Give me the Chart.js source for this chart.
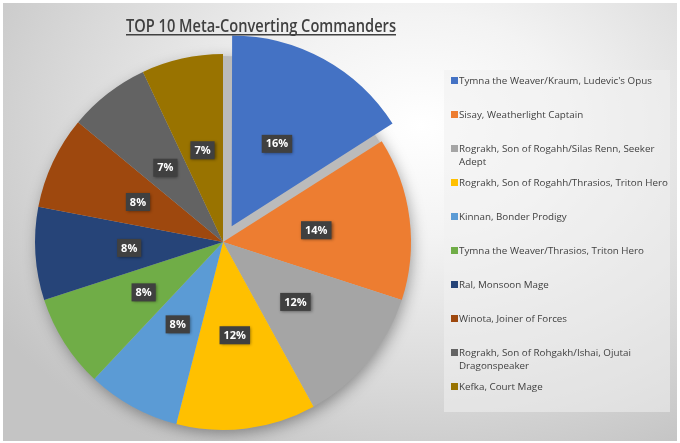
<!DOCTYPE html>
<html>
<head>
<meta charset="utf-8">
<script src="https://cdn.jsdelivr.net/npm/chart.js@4/dist/chart.umd.min.js"></script>
<style>
    html, body { margin: 0; padding: 0; background: #fff; }
    body { width: 680px; height: 443px; position: relative; overflow: hidden; }
    #quadro {
        position: absolute; left: 3px; top: 3px; width: 674px; height: 438px;
        background: radial-gradient(ellipse 75% 85% at 62% 28%, #ffffff 0%, #f3f3f3 30%, #d9d9d9 70%, #c4c4c4 100%);
    }
    #caixaGrafico { position: absolute; left: 0; top: 0; width: 674px; height: 438px; }
    #legenda {
        position: absolute; left: 441px; top: 67px; width: 226px; height: 342px;
        background: rgba(240, 240, 240, 0.55);
        font-family: "Open Sans", sans-serif; font-size: 9.8px; color: #404040;
    }
    .item { position: absolute; left: 7px; width: 216px; line-height: 13px; }
    .item .cor { position: absolute; left: 0; top: 3px; width: 7px; height: 7px; }
    .item .txt { position: absolute; left: 8px; white-space: nowrap; }
</style>
</head>
<body>
<div id="quadro">
    <div id="caixaGrafico"><canvas id="graficoPizza"></canvas></div>
    <div id="legenda"></div>
</div>
<script>
const titulo = 'TOP 10 Meta-Converting Commanders';

// rótulos com quebra de linha igual à legenda original
const comandantes = [
    'Tymna the Weaver/Kraum, Ludevic\'s Opus',
    'Sisay, Weatherlight Captain',
    ['Rograkh, Son of Rogahh/Silas Renn, Seeker', 'Adept'],
    'Rograkh, Son of Rogahh/Thrasios, Triton Hero',
    'Kinnan, Bonder Prodigy',
    'Tymna the Weaver/Thrasios, Triton Hero',
    'Ral, Monsoon Mage',
    'Winota, Joiner of Forces',
    ['Rograkh, Son of Rohgakh/Ishai, Ojutai', 'Dragonspeaker'],
    'Kefka, Court Mage'
];

const percentuais = [16, 14, 12, 12, 8, 8, 8, 8, 7, 7];

const cores = ['#4472C4', '#ED7D31', '#A5A5A5', '#FFC000', '#5B9BD5',
               '#70AD47', '#264478', '#9E480E', '#636363', '#997300'];

// fatia destacada (explodida)
const destaque = [72, 0, 0, 0, 0, 0, 0, 0, 0, 0];

// sombra por baixo da pizza inteira
const sombraPizza = {
    id: 'sombraPizza',
    beforeDatasetsDraw(chart) {
        const arco = chart.getDatasetMeta(0).data[0];
        if (!arco) return;
        const ctx = chart.ctx;
        ctx.save();
        ctx.shadowColor = 'rgba(0,0,0,0.4)';
        ctx.shadowBlur = 16;
        ctx.shadowOffsetX = 2;
        ctx.shadowOffsetY = 5;
        ctx.fillStyle = '#bbbbbb';
        ctx.beginPath();
        ctx.arc(arco.x, arco.y, arco.outerRadius - 2, 0, Math.PI * 2);
        ctx.fill();
        ctx.restore();
    }
};

// rótulos de porcentagem em caixinhas escuras
const rotulos = {
    id: 'rotulos',
    afterDatasetsDraw(chart) {
        const ctx = chart.ctx;
        const meta = chart.getDatasetMeta(0);
        const total = percentuais.reduce((a, b) => a + b, 0);
        ctx.save();
        ctx.font = 'bold 11px "Open Sans", sans-serif';
        ctx.textAlign = 'center';
        ctx.textBaseline = 'middle';
        meta.data.forEach((arco, i) => {
            const meio = (arco.startAngle + arco.endAngle) / 2;
            const desloc = (destaque[i] || 0) / 4;
            const r = desloc + arco.outerRadius * 0.5;
            const x = arco.x + Math.cos(meio) * r;
            const y = arco.y + Math.sin(meio) * r;
            const texto = Math.round(percentuais[i] / total * 100) + '%';
            const w = ctx.measureText(texto).width + 8;
            const h = 18;
            ctx.save();
            ctx.shadowColor = 'rgba(0,0,0,0.45)';
            ctx.shadowBlur = 3;
            ctx.shadowOffsetX = 1;
            ctx.shadowOffsetY = 1;
            ctx.fillStyle = '#404040';
            ctx.fillRect(x - w / 2, y - h / 2, w, h);
            ctx.restore();
            ctx.fillStyle = '#ffffff';
            ctx.fillText(texto, x, y + 0.5);
        });
        ctx.restore();
    }
};

// título sublinhado
const tituloSublinhado = {
    id: 'tituloSublinhado',
    afterDraw(chart) {
        const ctx = chart.ctx;
        const cx = 258, base = 29, largura = 270;
        ctx.save();
        ctx.font = '600 18px "Open Sans", sans-serif';
        const medida = ctx.measureText(titulo).width;
        const esc = largura / medida;
        ctx.fillStyle = '#404040';
        ctx.textBaseline = 'alphabetic';
        ctx.translate(cx - largura / 2, base);
        ctx.scale(esc, 1);
        ctx.fillText(titulo, 0, 0);
        ctx.restore();
        ctx.fillStyle = '#404040';
        ctx.fillRect(cx - largura / 2, base + 2, largura, 1.5);
    }
};

new Chart(document.getElementById('graficoPizza'), {
    type: 'pie',
    data: {
        labels: comandantes,
        datasets: [{
            data: percentuais,
            backgroundColor: cores,
            borderWidth: 0,
            offset: destaque
        }]
    },
    options: {
        responsive: true,
        maintainAspectRatio: false,
        animation: false,
        radius: 188,
        layout: { padding: { left: 20, right: 254, top: 40, bottom: 0 } },
        plugins: {
            legend: { display: false },
            tooltip: { enabled: false }
        }
    },
    plugins: [sombraPizza, rotulos, tituloSublinhado]
});

// legenda em HTML (para quebrar as linhas como no original)
const legenda = document.getElementById('legenda');
comandantes.forEach((nome, i) => {
    const linhas = Array.isArray(nome) ? nome : [nome];
    const item = document.createElement('div');
    item.className = 'item';
    item.style.top = (3.5 + i * 34.1) + 'px';
    item.innerHTML = `<span class="cor" style="background:${cores[i]}"></span><span class="txt">${linhas.join('<br>')}</span>`;
    legenda.appendChild(item);
});
</script>
</body>
</html>
